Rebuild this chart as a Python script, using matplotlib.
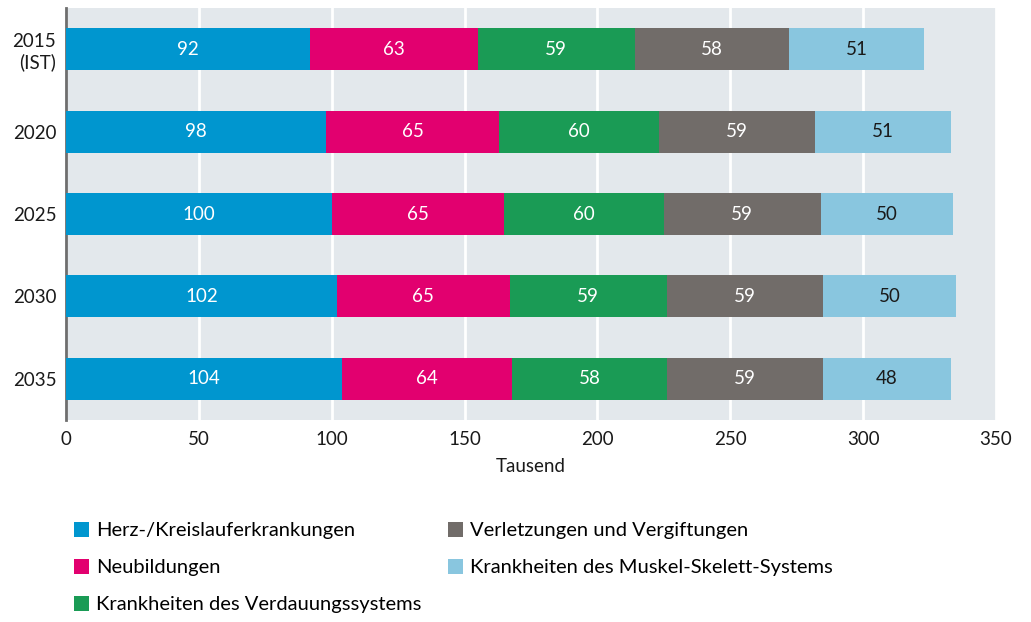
import matplotlib
matplotlib.use("Agg")
import matplotlib.pyplot as plt
import numpy as np

plt.rcParams['font.family'] = ['Lato', 'DejaVu Sans']

years = ["2015\n(IST)", "2020", "2025", "2030", "2035"]
series_names = [
    "Herz-/Kreislauferkrankungen",
    "Neubildungen",
    "Krankheiten des Verdauungssystems",
    "Verletzungen und Vergiftungen",
    "Krankheiten des Muskel-Skelett-Systems",
]
herz = [92, 98, 100, 102, 104]
neubildungen = [63, 65, 65, 65, 64]
verdauung = [59, 60, 60, 59, 58]
verletzungen = [58, 59, 59, 59, 59]
muskel = [51, 51, 50, 50, 48]
values = [herz, neubildungen, verdauung, verletzungen, muskel]
colors = ["#0096cf", "#e2006f", "#1a9b55", "#716c69", "#89c6df"]
text_colors = ["white", "white", "white", "white", "#1a1a1a"]

fig = plt.figure(figsize=(10.31, 6.22), dpi=100)
ax = fig.add_axes([66/1031, 1-420/622, 930/1031, 412/622])
ax.set_facecolor("#e3e8ec")

y = np.arange(len(years))
left = np.zeros(len(years))
handles = []
for vals, c, tc, name in zip(values, colors, text_colors, series_names):
    vals = np.array(vals, dtype=float)
    b = ax.barh(y, vals, left=left, height=0.51, color=c, label=name, zorder=3)
    handles.append(b)
    for yi, l, v in zip(y, left, vals):
        ax.text(l + v/2, yi, f"{int(v)}", ha="center", va="center", color=tc, fontsize=13.5, zorder=4)
    left += vals

ax.set_xlim(0, 350)
ax.set_ylim(4.5, -0.5)
ax.set_xticks(np.arange(0, 351, 50))
ax.set_yticks(y)
ax.set_yticklabels(years)
ax.xaxis.grid(True, color="white", linewidth=2, zorder=1)
ax.set_axisbelow(True)
for s in ["top", "right", "bottom"]:
    ax.spines[s].set_visible(False)
ax.spines["left"].set_color("#6e6e6e")
ax.spines["left"].set_linewidth(2)
ax.tick_params(axis="both", length=0, labelsize=13.5, colors="#1a1a1a")
ax.tick_params(axis="x", pad=8)
ax.tick_params(axis="y", pad=7)
ax.set_xlabel("Tausend", fontsize=13.5, color="#1a1a1a", labelpad=7)

fig.legend(handles=handles, labels=series_names, loc="upper left",
           bbox_to_anchor=(66/1031, 1-514/622), ncol=2, frameon=False,
           fontsize=14.5, handlelength=0.75, handleheight=0.75, handletextpad=0.35,
           labelspacing=0.97, columnspacing=1.3, borderaxespad=0)

fig.savefig("out.png", dpi=100)
